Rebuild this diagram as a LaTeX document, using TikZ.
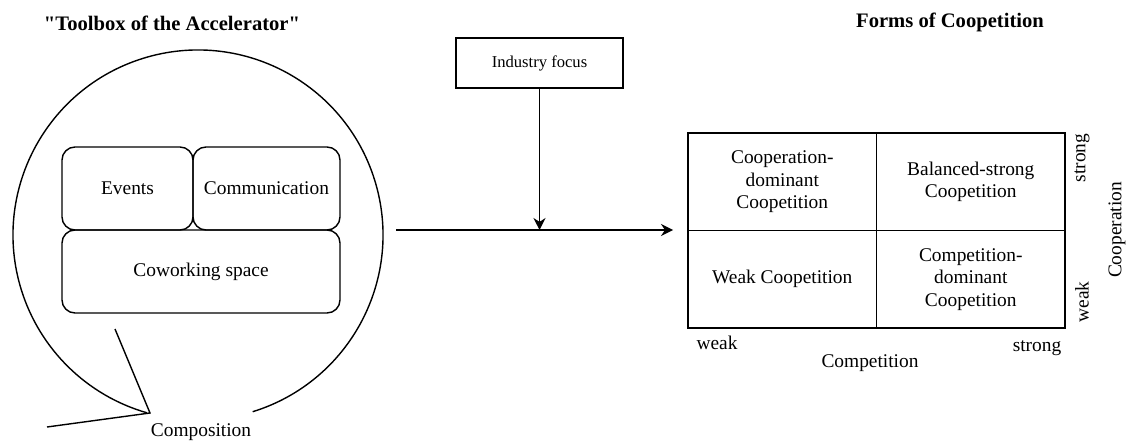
\documentclass[tikz,border=0pt]{standalone}
\usepackage{fontspec}
\setmainfont{Liberation Serif}
\usepackage{tikz}
\usetikzlibrary{arrows.meta}

\newcommand{\straightq}{\XeTeXglyph\XeTeXcharglyph"22\relax}

\begin{document}
\begin{tikzpicture}[x = 0.5pt, y = -0.5pt, line width = 0.7pt,
		every node/.style = {font = \fontsize{9.7}{11.2}\selectfont},
		heading/.style = {font = \fontsize{10.3}{12}\selectfont\bfseries},
		tool/.style = {draw, rounded corners = 6.5pt, minimum height = 41.5pt, inner sep = 0pt},
		cell/.style = {draw, minimum width = 94.25pt, minimum height = 48.75pt, align = center, inner sep = 0pt},
		arr/.style = {-{Stealth[length = 6pt, width = 6pt]}}]
	
		\useasboundingbox (0, 0) rectangle (1127, 442);
		
		\node[heading] (tbtitle) at (172, 23) {\straightq Toolbox of the Accelerator\straightq};
		\node[heading] (cftitle) at (950, 22) {Forms of Coopetition};
		
		\node[draw, minimum width = 83.5pt, minimum height = 25pt, font = \fontsize{8.3}{10}\selectfont] (focus) at (539.5, 63) {Industry focus};
		
		\node[tool, minimum width = 65.5pt] (events) at (127.5, 188.5) {Events};
		\node[tool, minimum width = 73.5pt] (comm) at (266.5, 188.5) {Communication};
		\node[tool, minimum width = 139pt] (cowork) at (201, 271.5) {Coworking space};
		
		% speech bubble round the toolbox
		\draw (198, 235) ++(72.8:185) arc [start angle = 72.8, end angle = -254, radius = 185];
		\coordinate (tip) at (150, 413);
		\draw (115, 329) -- (tip) -- (47, 427);
		\node (comp) at (201, 432) {Composition};
		
		\node[cell] (cd) at (782.25, 181.75) {Cooperation-\\dominant\\Coopetition};
		\node[cell] (bs) at (970.75, 181.75) {Balanced-strong\\Coopetition};
		\node[cell] (wc) at (782.25, 279.25) {Weak Coopetition};
		\node[cell] (pd) at (970.75, 279.25) {Competition-\\dominant\\Coopetition};
		
		\node (cpweak) at (717, 343) {weak};
		\node (cpstrong) at (1037, 348) {strong};
		\node (cp) at (870, 363) {Competition};
		\node[rotate = 90] (costrong) at (1082, 158) {strong};
		\node[rotate = 90] (coweak) at (1082, 302) {weak};
		\node[rotate = 90] (co) at (1117, 230) {Cooperation};
		
		\coordinate (from) at (396, 230);
		\coordinate (to) at (673, 230);
		\draw[arr] (from) -- (to);
		\draw[arr] (focus.south) -- (focus.south |- from);
	\end{tikzpicture}
\end{document}
